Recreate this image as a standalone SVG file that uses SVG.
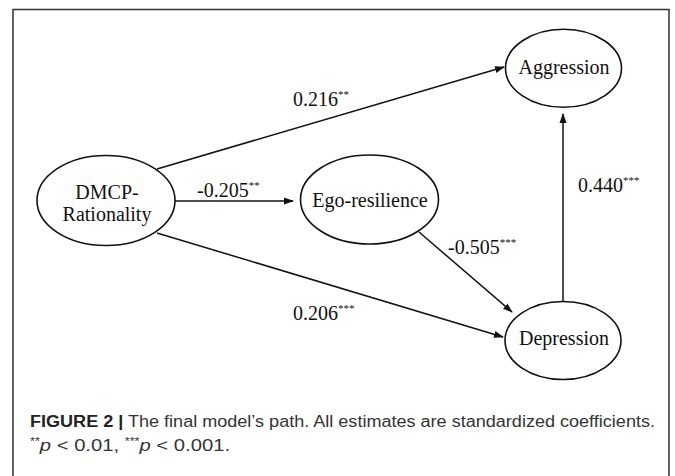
<svg xmlns="http://www.w3.org/2000/svg" width="675" height="476" viewBox="0 0 675 476">
<style>
.node{fill:#fff;stroke:#111;stroke-width:1.6}
.nt{font-family:"Liberation Serif","Times New Roman",Tinos,serif;font-size:20px;fill:#111;text-anchor:middle}
.lb{font-family:"Liberation Serif","Times New Roman",Tinos,serif;font-size:20px;fill:#111}
.sup{font-size:11px}
.edge{stroke:#111;stroke-width:1.5;fill:none;marker-end:url(#ah)}
.cap{font-family:"Liberation Sans",Arial,sans-serif;font-size:16px;fill:#333}
</style>
<defs>
<marker id="ah" markerWidth="10" markerHeight="8" refX="9" refY="4" orient="auto" markerUnits="userSpaceOnUse">
<path d="M0,0.5 L10,4 L0,7.5 Z" fill="#111"/>
</marker>
</defs>
<rect x="0" y="0" width="675" height="476" fill="#fff"/>
<rect x="13" y="9.5" width="656" height="480" fill="none" stroke="#333" stroke-width="1.5"/>
<g id="connectors">
<line class="edge" x1="157" y1="169" x2="504" y2="67"/>
<line class="edge" x1="175" y1="201" x2="293" y2="201"/>
<line class="edge" x1="157" y1="233" x2="503" y2="337"/>
<line class="edge" x1="419" y1="232" x2="512" y2="312"/>
<line class="edge" x1="563" y1="301.5" x2="563" y2="114"/>
<text class="lb" x="293" y="106">0.216<tspan class="sup" dy="-8">**</tspan></text>
<text class="lb" x="197" y="197">-0.205<tspan class="sup" dy="-8">**</tspan></text>
<text class="lb" x="448" y="253.5">-0.505<tspan class="sup" dy="-8">***</tspan></text>
<text class="lb" x="578" y="192">0.440<tspan class="sup" dy="-8">***</tspan></text>
<text class="lb" x="293" y="320">0.206<tspan class="sup" dy="-8">***</tspan></text>
</g>
<g id="dmcp">
<ellipse class="node" cx="106" cy="200.5" rx="69" ry="45"/>
<text class="nt" x="107" y="198.5">DMCP-</text>
<text class="nt" x="107" y="221">Rationality</text>
</g>
<g id="ego">
<ellipse class="node" cx="369.5" cy="199.5" rx="69" ry="44.5"/>
<text class="nt" x="370" y="207">Ego-resilience</text>
</g>
<g id="aggression">
<ellipse class="node" cx="563.5" cy="68.3" rx="58" ry="39"/>
<text class="nt" x="564" y="73.5">Aggression</text>
</g>
<g id="depression">
<ellipse class="node" cx="563" cy="340.5" rx="58" ry="39"/>
<text class="nt" x="564" y="345">Depression</text>
</g>
<g id="caption">
<text class="cap" x="30" y="427" textLength="625" lengthAdjust="spacingAndGlyphs"><tspan font-weight="bold" fill="#222">FIGURE 2 |</tspan> The final model’s path. All estimates are standardized coefficients.</text>
<text class="cap" x="30" y="451" textLength="200" lengthAdjust="spacingAndGlyphs"><tspan font-size="10" dy="-6">**</tspan><tspan font-style="italic" dy="6">p</tspan> &lt; 0.01, <tspan font-size="10" dy="-6">***</tspan><tspan font-style="italic" dy="6">p</tspan> &lt; 0.001.</text>
</g>
</svg>
